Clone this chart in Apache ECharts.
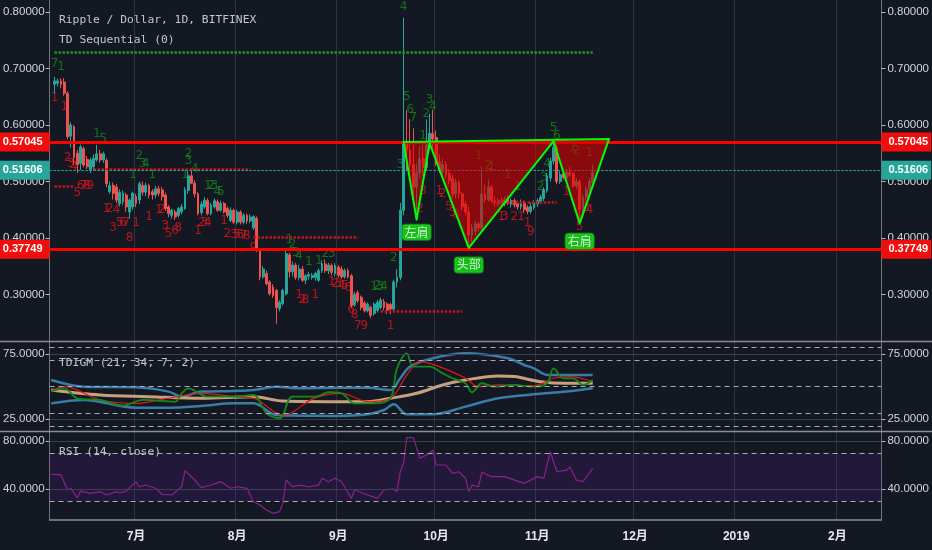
<!DOCTYPE html>
<html>
<head>
<meta charset="utf-8">
<script src="https://cdn.jsdelivr.net/npm/echarts@6.0.0/dist/echarts.min.js"></script>
<style>
html,body{margin:0;padding:0;background:#141823;overflow:hidden;}
#chart{width:932px;height:550px;}
</style>
</head>
<body>
<div id="chart"></div>
<script>
// ================= categories =================
const FIRST_DAY = [2018, 5, 5];   // 2018-06-05
const DAY_COUNT = 255;            // through mid Feb 2019
const JULY1 = 26;                 // category index of 2018-07-01

// ================= candles [open, high, low, close] =================
const JUNE_OHLC = [ // from 2018-06-06
[.672,.685,.656,.678],[.674,.682,.668,.678],[.678,.683,.665,.672],[.676,.683,.652,.656],
[.656,.660,.575,.579],[.580,.605,.560,.600],[.597,.600,.530,.543],[.550,.556,.515,.530],
[.532,.565,.520,.561],[.558,.562,.525,.529],[.539,.545,.522,.526],[.520,.542,.515,.538],
[.526,.548,.520,.541],[.538,.565,.535,.549],[.549,.556,.533,.538],[.538,.553,.533,.549],
[.537,.541,.490,.496],[.482,.500,.478,.493],[.493,.498,.468,.479],[.490,.495,.462,.467],
[.461,.486,.456,.481],[.464,.484,.458,.479],[.476,.480,.446,.455],[.446,.470,.434,.467],
[.455,.482,.450,.479]];
const JULY_OHLC = [
[.473,.478,.455,.461],[.467,.500,.460,.496],[.493,.500,.475,.481],[.481,.498,.474,.493],
[.493,.496,.470,.476],[.482,.486,.468,.476],[.476,.492,.470,.487],[.487,.492,.474,.479],
[.485,.490,.466,.473],[.476,.480,.448,.452],[.455,.458,.437,.443],[.440,.452,.434,.449],
[.446,.450,.432,.437],[.440,.455,.436,.452],[.446,.460,.442,.455],[.452,.490,.450,.485],
[.484,.518,.478,.510],[.510,.520,.495,.497],[.497,.502,.472,.478],[.478,.481,.440,.443],
[.445,.465,.440,.460],[.455,.472,.452,.467],[.466,.470,.440,.443],[.443,.462,.440,.458],
[.455,.470,.452,.466],[.464,.468,.446,.449],[.449,.466,.446,.461],[.461,.464,.443,.446],
[.452,.456,.436,.440],[.431,.454,.428,.449],[.449,.452,.425,.428]];
const AUG_OHLC = [
[.428,.450,.424,.446],[.446,.449,.424,.428],[.428,.444,.424,.440],[.440,.443,.425,.430],
[.430,.442,.426,.437],[.418,.440,.414,.438],[.435,.438,.375,.378],[.378,.380,.325,.331],
[.331,.350,.328,.345],[.337,.342,.316,.319],[.322,.325,.298,.301],[.313,.318,.294,.298],
[.307,.310,.248,.277],[.275,.290,.270,.286],[.284,.310,.280,.307],[.301,.378,.298,.372],
[.370,.374,.330,.340],[.340,.358,.332,.352],[.352,.356,.326,.330],[.330,.352,.325,.345],
[.345,.350,.322,.325],[.325,.336,.318,.333],[.332,.340,.326,.335],[.330,.338,.326,.334],
[.330,.340,.324,.337],[.325,.346,.322,.342],[.342,.360,.338,.354],[.354,.362,.338,.342],
[.342,.356,.336,.352],[.351,.355,.334,.339],[.337,.355,.332,.351]];
const SEP_OHLC = [
[.348,.352,.330,.334],[.345,.350,.328,.331],[.331,.346,.328,.342],[.342,.346,.328,.331],
[.333,.336,.276,.280],[.282,.305,.278,.300],[.303,.307,.285,.289],[.295,.298,.272,.277],
[.285,.288,.268,.271],[.271,.286,.268,.283],[.277,.280,.258,.263],[.266,.286,.262,.283],
[.272,.290,.268,.286],[.277,.294,.274,.290],[.287,.292,.272,.277],[.283,.286,.265,.272],
[.282,.285,.265,.274],[.274,.326,.270,.322],[.322,.345,.312,.330],[.330,.462,.325,.449],
[.449,.790,.440,.567],[.567,.626,.520,.555],[.555,.610,.505,.530],[.530,.594,.470,.490],
[.490,.532,.433,.515],[.515,.562,.505,.540],[.540,.565,.510,.525],[.525,.610,.520,.565],
[.565,.620,.555,.585],[.585,.627,.555,.575]];
const OCT_OHLC = [
[.578,.590,.528,.535],[.535,.548,.515,.520],[.518,.540,.512,.530],[.530,.536,.505,.512],
[.514,.522,.495,.502],[.505,.512,.470,.478],[.478,.505,.470,.498],[.498,.502,.470,.478],
[.478,.482,.448,.455],[.460,.466,.440,.446],[.446,.455,.381,.405],[.405,.425,.393,.418],
[.412,.430,.405,.425],[.425,.428,.412,.418],[.418,.526,.410,.478],[.478,.495,.462,.468],
[.468,.502,.464,.490],[.490,.494,.462,.466],[.466,.474,.455,.462],[.460,.470,.455,.466],
[.466,.472,.456,.461],[.460,.474,.456,.468],[.468,.476,.458,.462],[.460,.470,.454,.466],
[.466,.470,.454,.459],[.461,.466,.450,.455],[.455,.468,.450,.463],[.463,.466,.444,.450],
[.454,.458,.442,.447],[.447,.462,.443,.456],[.454,.467,.450,.462]];
const NOV_OHLC = [
[.460,.470,.455,.466],[.464,.476,.460,.472],[.470,.490,.465,.486],[.484,.515,.480,.510],
[.506,.542,.500,.536],[.536,.575,.530,.560],[.560,.565,.495,.500],[.500,.518,.496,.512],
[.514,.522,.503,.507],[.506,.522,.502,.516],[.516,.526,.508,.511],[.514,.518,.488,.492],
[.492,.506,.486,.500],[.500,.504,.425,.450],[.450,.478,.440,.472],[.472,.492,.466,.486],
[.486,.506,.480,.500],[.498,.530,.492,.516]];
// first day offset (days from 2018-07-01) of each month block
const BLOCK_START = [-25, 0, 31, 62, 92, 123];

// ================= price levels =================
const RED_LEVELS = [0.57045, 0.37749];
const LAST_PRICE = 0.51606;
const MAIN_TICKS = [0.3, 0.4, 0.5, 0.6, 0.7, 0.8];

// TD sequential levels [fromDay, toDay, price]
const TD_GREEN_LEVELS = [[-25, 140, 0.7285]];
const TD_RED_LEVELS = [[-13, 35, 0.5216], [-25, -19, 0.4915], [36, 68, 0.4019], [75, 100, 0.2699], [109, 129, 0.4631]];

// TD sequential counts [day, price, text]
const TD_GREEN = [
[-25,.708,'7'],[-23,.703,'1'],[-12,.585,'1'],[-10,.575,'5'],
[-1,.511,'1'],[1,.546,'2'],[2,.532,'3'],[3,.532,'4'],[5,.511,'1'],
[15,.511,'1'],[16,.548,'2'],[16,.536,'3'],[18,.523,'4'],
[22,.493,'1'],[23,.493,'2'],[24,.493,'3'],[25,.481,'4'],[26,.481,'5'],
[47,.396,'1'],[48,.387,'2'],[49,.373,'3'],[50,.368,'4'],
[53,.358,'1'],[56,.360,'1'],[58,.372,'2'],[60,.372,'3'],
[73,.314,'1'],[74,.316,'2'],[75,.313,'3'],[76,.313,'4'],
[79,.364,'2'],[81,.529,'3'],[82,.809,'4'],[83,.649,'5'],[84,.626,'6'],[85,.612,'7'],
[88,.580,'1'],[89,.620,'2'],[90,.645,'3'],[91,.632,'4'],
[105,.546,'1'],[108,.527,'2'],[109,.525,'1'],[114,.511,'1'],[117,.490,'1'],
[124,.490,'2'],[125,.506,'3'],[126,.532,'4'],[128,.594,'5'],[129,.580,'6'],
[134,.560,'1'],[135,.555,'2'],[139,.550,'1']];
const TD_RED = [
[-25,.648,'1'],[-22,.632,'1'],
[-21,.541,'2'],[-20,.532,'3'],[-19,.525,'4'],[-18,.479,'5'],[-17,.492,'6'],[-16,.492,'7'],[-15,.492,'8'],[-14,.492,'9'],
[-9,.452,'1'],[-8,.452,'2'],[-7,.417,'3'],[-6,.449,'4'],[-5,.426,'5'],[-4,.426,'6'],[-3,.426,'7'],[-2,.401,'8'],
[0,.426,'1'],[4,.437,'1'],[7,.449,'1'],[8,.449,'2'],[9,.422,'3'],[10,.408,'5'],[12,.413,'6'],[13,.417,'8'],
[19,.413,'1'],[20,.426,'2'],[21,.426,'3'],[22,.426,'4'],
[27,.431,'1'],[28,.408,'2'],[30,.405,'3'],[31,.405,'5'],[32,.405,'6'],[33,.403,'7'],[34,.403,'8'],[36,.382,'9'],
[50,.300,'1'],[51,.290,'2'],[52,.290,'8'],[55,.300,'1'],
[60,.322,'1'],[61,.318,'2'],[62,.318,'3'],[63,.315,'4'],[64,.315,'5'],[65,.312,'6'],
[66,.272,'6'],[67,.263,'8'],[68,.245,'7'],[70,.245,'9'],[78,.245,'1'],
[87,.452,'2'],[88,.484,'8'],[93,.484,'1'],[94,.478,'2'],
[96,.455,'5'],[97,.445,'3'],[98,.440,'8'],
[112,.437,'1'],[113,.437,'3'],[116,.437,'2'],[118,.437,'1'],[120,.427,'1'],[121,.410,'9'],
[132,.481,'1'],[136,.419,'5'],[138,.454,'3'],[139,.450,'4']];

// head & shoulders drawing [day, price]
const HS_POINTS = [[82,.570],[86,.4324],[90,.5677],[102,.3824],[128,.5713],[136,.4259],[145,.5754]];
const HS_LABELS = [[86,.4099,'左肩'],[102,.3523,'头部'],[136,.394,'右肩']];

// ================= TDIGM (21,34,7,2) [day, value] =================
const TDIGM_UPPER = [[-26,55.1],[-16,50],[0,49.5],[10,46.2],[14,42.3],[20,46.2],[30,46.7],[36,47.4],[43,50],[50,48.7],[61,49.2],[71,49.2],[78,47.4],[81,56.4],[84,65.3],[91,71.7],[101,75.5],[114,71.7],[119,66.6],[122,64],[126,59],[132,59],[140,59]];
const TDIGM_LOWER = [[-26,37.2],[-16,39.8],[0,33.9],[10,33.9],[20,35.2],[30,37.2],[36,37.2],[43,28.3],[50,27.8],[61,27.6],[71,28.8],[76,32.1],[79,36.5],[83,28.8],[91,28.8],[101,34.7],[111,41.1],[122,44.1],[132,46.2],[140,48.7]];
const TDIGM_MID = [[-26,47.4],[-11,43.6],[4,42.3],[20,41.1],[36,42.3],[45,39],[61,38.5],[71,38.5],[78,41.1],[86,44.9],[94,51.3],[101,55.1],[111,58.2],[116,57.7],[124,53.8],[132,52.6],[140,52.6]];
const TDIGM_RED = [[-26,46.7],[-22,50],[-11,39.8],[0,37.2],[10,41.1],[20,44.9],[30,42.3],[36,41.1],[45,28.3],[55,41.6],[63,44.9],[71,38.5],[78,41.1],[83,58.9],[87,69.1],[93,65.3],[101,56.4],[105,50],[111,51.3],[122,50.8],[128,56.4],[133,57.7],[140,53.8]];
const TDIGM_GREEN = [[-26,46.2],[-22,48.7],[-18,41.1],[-11,39.8],[-4,35.5],[2,39.8],[12,38.5],[14,44.9],[16,48.7],[22,42.3],[30,42.3],[36,43.6],[40,29.6],[44,25.8],[48,42.3],[55,42.3],[59,45.7],[63,44.9],[67,37.2],[73,37.2],[78,41.1],[80,64],[83,75.5],[85,65.3],[90,65.3],[94,60.2],[97,56.4],[101,52.5],[103,45.7],[106,52.6],[110,50],[116,51.3],[122,50],[126,52.6],[128,64],[131,56.4],[134,56.4],[137,51.3],[140,55.1]];
const TDIGM_DASHED = [80, 70, 50, 30, 20];
const TDIGM_TICKS = [25, 75];

// ================= RSI (14, close) [day, value] =================
const RSI = [[-26,52.2],[-23,51.7],[-21,39.2],[-20,40.6],[-18,32.8],[-17,38.3],[-14,36.4],[-11,37.8],[-9,35],[-6,37.8],[-5,36.9],[-3,38.3],[0,46.1],[1,41.9],[3,43.3],[6,40.6],[8,35.6],[11,35],[14,41.9],[15,55.3],[18,47.5],[20,41.1],[23,43.3],[26,46.1],[29,40.6],[31,41.9],[34,40.6],[36,29.4],[38,26.7],[40,22.5],[42,19.7],[44,21.1],[45,28],[46,47.5],[48,41.9],[50,43.3],[53,41.9],[56,43.3],[57,48.9],[59,46.1],[61,48.9],[63,46.1],[66,32.2],[67,39.2],[71,35],[74,32.2],[76,39.2],[79,40],[80,37.8],[81,54.4],[82,61.4],[83,82.8],[85,82.8],[87,65.6],[90,69.7],[91,72.5],[92,60],[95,60],[97,53],[99,54.4],[101,48.9],[102,37.8],[103,43.3],[105,41.9],[106,53.9],[109,50.3],[113,50.3],[119,44.7],[123,50.3],[125,48.9],[127,71.1],[129,54.4],[132,55.8],[133,58.6],[135,47.5],[137,46.1],[140,57.2]];
const RSI_DASHED = [70, 30];
const RSI_TICKS = [40, 80];

// ================= build =================
const dates = [];
for (let k = 0; k < DAY_COUNT; k++) {
  const t = new Date(Date.UTC(FIRST_DAY[0], FIRST_DAY[1], FIRST_DAY[2] + k));
  dates.push(t.toISOString().slice(0, 10));
}
const ix = d => d + JULY1;
const isMonthStart = i => dates[i] && dates[i].slice(8) === '01';
const monthLabel = v => { const p = v.split('-'); return p[1] === '01' ? p[0] : (+p[1]) + '月'; };

const candles = new Array(DAY_COUNT).fill('-');
[JUNE_OHLC, JULY_OHLC, AUG_OHLC, SEP_OHLC, OCT_OHLC, NOV_OHLC].forEach((rows, b) => {
  rows.forEach((r, i) => { candles[ix(BLOCK_START[b] + i)] = [r[0], r[3], r[2], r[1]]; });
});
const pairs = arr => arr.map(([d, v]) => [ix(d), v]);

const BG = '#141823', GRID = '#2f3340', AXIS = '#70737d', LBL = '#d1d4dc';
const FONT = 'Liberation Sans, Arial, sans-serif';
const MONO = 'DejaVu Sans Mono, monospace';

function xAxis(gi, labels) {
  return {
    type: 'category', gridIndex: gi, data: dates, boundaryGap: true,
    axisLine: { show: labels, lineStyle: { color: '#8a8d95', width: 1.5 } },
    axisTick: { show: false },
    axisLabel: { show: labels, interval: i => isMonthStart(i), formatter: monthLabel,
      color: '#e6e8ee', fontSize: 12, fontWeight: 'bold', margin: 11, fontFamily: FONT + ', Noto Sans CJK SC' },
    splitLine: { show: true, interval: i => isMonthStart(i), lineStyle: { color: GRID, width: 1 } }
  };
}
function yAxis(gi, pos, min, max, ticks, digits) {
  return {
    type: 'value', gridIndex: gi, position: pos, min, max, scale: true,
    splitLine: { show: false },
    axisLine: { show: true, onZero: false, lineStyle: { color: AXIS, width: 1 } },
    axisTick: { show: true, length: 4, customValues: ticks, lineStyle: { color: '#b8bbc2' } },
    axisLabel: { customValues: ticks, formatter: v => (+v).toFixed(digits), color: LBL,
      fontSize: 11.5, fontFamily: FONT, margin: pos === 'left' ? 5 : 6 }
  };
}
const hLines = (vals, style) => vals.map(v => ({ yAxis: v, lineStyle: style }));

const tagLabel = (val, bg, pos) => ({
  show: true, position: pos, distance: 0, formatter: val.toFixed(5),
  color: '#fff', backgroundColor: bg, fontSize: 11, fontWeight: 'bold', fontFamily: FONT,
  padding: pos === 'start' ? [4, 7, 4, 3] : [4, 3, 4, 7]
});
const priceMarks = [];
RED_LEVELS.forEach(v => {
  priceMarks.push({ yAxis: v, lineStyle: { color: '#ff0000', width: 3, type: 'solid' }, label: tagLabel(v, '#f20d0d', 'start') });
  priceMarks.push({ yAxis: v, lineStyle: { color: '#ff0000', width: 3, type: 'solid' }, label: tagLabel(v, '#f20d0d', 'end') });
});
priceMarks.push({ yAxis: LAST_PRICE, lineStyle: { color: '#26a69a', width: 1, type: [2, 2] }, label: tagLabel(LAST_PRICE, '#26a69a', 'start') });
priceMarks.push({ yAxis: LAST_PRICE, lineStyle: { color: '#26a69a', width: 1, type: [2, 2] }, label: tagLabel(LAST_PRICE, '#26a69a', 'end') });

const levelMarks = [];
TD_GREEN_LEVELS.forEach(([a, b, p]) => levelMarks.push([{ coord: [dates[ix(a)], p], lineStyle: { color: '#1f9a1f', width: 2.5, type: [2.5, 1.5] } }, { coord: [dates[ix(b)], p] }]));
TD_RED_LEVELS.forEach(([a, b, p]) => levelMarks.push([{ coord: [dates[ix(a)], p], lineStyle: { color: '#c0171c', width: 2.5, type: [2.5, 1.5] } }, { coord: [dates[ix(b)], p] }]));

const tdSeries = (arr, color) => ({
  type: 'scatter', xAxisIndex: 0, yAxisIndex: 0, z: 2, silent: true, symbolSize: 1,
  itemStyle: { color: 'rgba(0,0,0,0)' },
  label: { show: true, position: 'inside', formatter: '{b}', color, fontSize: 12, fontFamily: 'DejaVu Sans, sans-serif' },
  data: arr.map(([d, p, t]) => ({ value: [ix(d), p], name: t }))
});
const tdigmLine = (arr, color, width) => ({
  type: 'line', xAxisIndex: 1, yAxisIndex: 2, data: pairs(arr), showSymbol: false, smooth: 0.35,
  lineStyle: { color, width }, silent: true
});

const option = {
  backgroundColor: BG,
  animation: false,
  grid: [
    { left: 49, right: 50, top: 0, height: 341.5 },
    { left: 49, right: 50, top: 341.5, height: 90 },
    { left: 49, right: 50, top: 431.5, height: 88.5 }
  ],
  xAxis: [xAxis(0, false), xAxis(1, false), xAxis(2, true)],
  yAxis: [
    yAxis(0, 'left', 0.21667, 0.82128, MAIN_TICKS, 5), yAxis(0, 'right', 0.21667, 0.82128, MAIN_TICKS, 5),
    yAxis(1, 'left', 15.66, 84.57, TDIGM_TICKS, 4), yAxis(1, 'right', 15.66, 84.57, TDIGM_TICKS, 4),
    yAxis(2, 'left', 14.17, 87.92, RSI_TICKS, 4), yAxis(2, 'right', 14.17, 87.92, RSI_TICKS, 4)
  ],
  graphic: [
    { type: 'line', z: 100, shape: { x1: 0, y1: 341.5, x2: 932, y2: 341.5 }, style: { stroke: '#8a8d95', lineWidth: 1.5 } },
    { type: 'line', z: 100, shape: { x1: 0, y1: 431.5, x2: 932, y2: 431.5 }, style: { stroke: '#8a8d95', lineWidth: 1.5 } },
    { type: 'text', z: 100, left: 59, top: 15, style: { text: 'Ripple / Dollar, 1D, BITFINEX', fill: '#c3c6cd', font: '11.3px ' + MONO } },
    { type: 'text', z: 100, left: 59, top: 35, style: { text: 'TD Sequential (0)', fill: '#c3c6cd', font: '11.3px ' + MONO } },
    { type: 'text', z: 100, left: 59, top: 358, style: { text: 'TDIGM (21, 34, 7, 2)', fill: '#c3c6cd', font: '11.3px ' + MONO } },
    { type: 'text', z: 100, left: 59, top: 447, style: { text: 'RSI (14, close)', fill: '#c3c6cd', font: '11.3px ' + MONO } }
  ],
  series: [
    {
      type: 'candlestick', xAxisIndex: 0, yAxisIndex: 0, data: candles, barWidth: '72%', z: 3, silent: true,
      itemStyle: { color: '#26a69a', color0: '#ef5350', borderColor: '#26a69a', borderColor0: '#ef5350', borderWidth: 1 }
    },
    tdSeries(TD_GREEN, '#15871a'),
    tdSeries(TD_RED, '#e0141a'),
    {
      type: 'line', xAxisIndex: 0, yAxisIndex: 0, data: [], z: 2, silent: true,
      markLine: { silent: true, symbol: ['none', 'none'], label: { show: false }, data: levelMarks }
    },
    {
      type: 'custom', xAxisIndex: 0, yAxisIndex: 0, z: 5, silent: true, data: [[0, 0.5]],
      renderItem: (params, api) => ({
        type: 'polygon',
        shape: { points: HS_POINTS.map(([d, p]) => api.coord([ix(d), p])) },
        style: { fill: 'rgba(215,0,0,0.6)', stroke: '#00ff00', lineWidth: 2, lineJoin: 'round' }
      })
    },
    {
      type: 'line', xAxisIndex: 0, yAxisIndex: 0, data: [], z: 6, silent: true,
      markLine: { silent: true, symbol: ['none', 'none'], data: priceMarks }
    },
    {
      type: 'scatter', xAxisIndex: 0, yAxisIndex: 0, z: 7, silent: true, symbolSize: 1,
      itemStyle: { color: 'rgba(0,0,0,0)' },
      label: { show: true, position: 'inside', formatter: '{b}', color: '#ffffff', fontSize: 12,
        fontFamily: 'Noto Sans CJK SC, sans-serif', backgroundColor: '#19e619', borderColor: '#0fa80f',
        borderWidth: 1, borderRadius: 3, padding: [2, 2, 1, 2] },
      data: HS_LABELS.map(([d, p, t]) => ({ value: [ix(d), p], name: t }))
    },
    Object.assign(tdigmLine(TDIGM_UPPER, '#3a7ca8', 2.5), {
      markLine: { silent: true, symbol: ['none', 'none'], label: { show: false },
        data: hLines(TDIGM_TICKS, { color: '#3c404c', width: 1, type: 'solid' })
          .concat(hLines(TDIGM_DASHED, { color: '#a9acb4', width: 1, type: [5, 4] })) }
    }),
    tdigmLine(TDIGM_LOWER, '#3a7ca8', 2.5),
    tdigmLine(TDIGM_MID, '#c9a07c', 3),
    tdigmLine(TDIGM_RED, '#e3161b', 1.2),
    tdigmLine(TDIGM_GREEN, '#138a16', 1.8),
    {
      type: 'line', xAxisIndex: 2, yAxisIndex: 4, data: pairs(RSI), showSymbol: false, silent: true,
      lineStyle: { color: '#8e1f8e', width: 1.2 },
      markArea: { silent: true, itemStyle: { color: 'rgba(115,30,180,0.16)' }, data: [[{ yAxis: 30 }, { yAxis: 70 }]] },
      markLine: { silent: true, symbol: ['none', 'none'], label: { show: false },
        data: hLines(RSI_TICKS, { color: '#3c404c', width: 1, type: 'solid' })
          .concat(hLines(RSI_DASHED, { color: '#a9acb4', width: 1, type: [5, 4] })) }
    }
  ]
};

const chart = echarts.init(document.getElementById('chart'), null, { renderer: 'canvas' });
chart.setOption(option);
</script>
</body>
</html>
